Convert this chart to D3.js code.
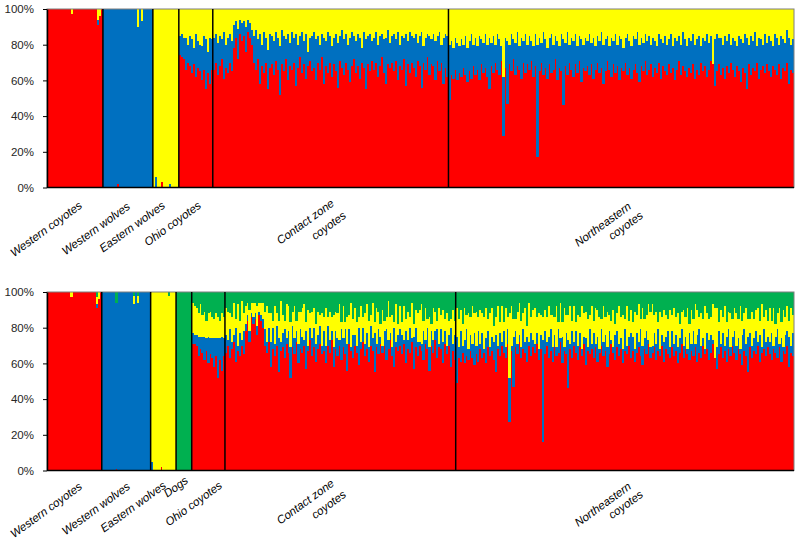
<!DOCTYPE html>
<html>
<head>
<meta charset="utf-8">
<script src="https://cdn.jsdelivr.net/npm/d3@7"></script>
<style>
  body { margin: 0; background: #fff; }
  svg { display: block; }
</style>
</head>
<body>
<div id="chart"></div>
<script>
// ---- data (ancestry proportions, % per individual) ----
const colorsK3 = ["#FF0000", "#0070C0", "#FFFF00"];
const colorsK4 = ["#FF0000", "#0070C0", "#FFFF00", "#00B050"];
const yTicks = [0, 20, 40, 60, 80, 100];

const groupsK3 = ["Western coyotes", "Western wolves", "Eastern wolves", "Ohio coyotes", "Contact zone coyotes", "Northeastern coyotes"];
const groupsK4 = ["Western coyotes", "Western wolves", "Eastern wolves", "Dogs", "Ohio coyotes", "Contact zone coyotes", "Northeastern coyotes"];

const labelsK3 = [["Western coyotes"], ["Western wolves"], ["Eastern wolves"], ["Ohio coyotes"], ["Contact zone", "coyotes"], ["Northeastern", "coyotes"]];
const labelsK4 = [["Western coyotes"], ["Western wolves"], ["Eastern wolves"], ["Dogs"], ["Ohio coyotes"], ["Contact zone", "coyotes"], ["Northeastern", "coyotes"]];

// K = 3
const wcRedK3 = [100,100,100,100,100,100,100,100,100,100,100,100,97,100,100,100,100,100,100,100,100,100,100,100,100,91,96,100];
const wcBlueK3 = [0,0,0,0,0,0,0,0,0,0,0,0,0,0,0,0,0,0,0,0,0,0,0,0,0,3,0,0];
const wwRedK3 = [0,0,0,0,0,0,0,2,0,0,0,0,0,0,0,0,0,0,0,0,0,0,0,0,0];
const wwBlueK3 = [100,100,100,100,100,100,100,98,100,100,100,100,100,100,100,100,100,90,100,93,100,100,100,100,100];
const ewRedK3 = [0,0,0,0,3,0,0,0,0,0,0,0,0];
const ewBlueK3 = [0,6,0,0,0,0,0,0,2,0,0,0,0];
const ohioRedK3 = [74,73,72,66,70,68,64,69,62,67,65,60,66,55,64,58,66];
const ohioBlueK3 = [11,13,12,18,10,17,19,9,24,15,15,19,19,28,12,26,17];
const czRedK3 = [
  66,70,63,68,72,61,67,64,70,65, 78,84,72,86,82,85,76,87,84,80,
  70,66,72,58,68,64,70,55,67,69, 63,71,66,52,69,65,72,60,68,66,
  70,57,67,73,64,69,61,68,71,65, 67,60,70,66,73,58,68,64,70,62,
  69,65,56,71,67,63,70,66,59,68, 72,64,68,61,70,67,55,69,65,71,
  66,70,62,68,73,64,58,69,67,70, 65,71,60,68,66,72,57,69,64,70,
  67,62,71,68,56,70,66,73,63,69, 68,60,71,65,70,58,67,62];
const czBlueK3 = [
  18,16,18,17,11,26,13,20,16,17, 13,9,17,8,10,8,14,7,8,8,
  15,22,11,28,12,23,14,22,19,16, 19,16,18,27,19,20,11,26,13,21,
  14,29,13,12,23,13,25,8,13,20, 20,23,15,14,13,26,14,23,15,17,
  15,21,25,14,21,20,16,14,25,19, 13,18,18,23,8,20,28,16,21,11,
  18,17,18,17,13,19,26,19,14,15, 21,12,27,12,19,12,29,13,23,15,
  17,24,10,17,31,9,18,13,22,14, 18,22,14,22,10,26,19,23];
const neRedK3 = [
  49,63,61,66,60,64,62,67,63,59, 65,61,68,63,66,60,69,64,67,62,
  55,68,64,70,66,63,71,29,67,47, 69,65,72,63,68,66,61,70,64,69,
  66,71,62,68,17,65,70,63,67,61, 69,64,66,72,60,67,65,46,68,63,
  70,66,62,69,64,71,59,67,65,68, 63,69,61,66,70,64,67,58,65,71,
  66,62,69,64,68,60,67,65,70,63, 67,61,66,69,64,59,68,65,71,63,
  66,69,62,67,64,70,61,68,65,63, 69,64,67,60,66,71,63,68,65,62,
  67,64,69,61,66,63,70,65,68,62, 66,71,69,57,65,69,63,67,61,68,
  64,70,66,62,68,65,59,67,64,55, 69,63,67,65,70,61,66,68,64,69,
  65,62,68,66,63,69,61,67,65,70, 58,66,64];
const neBlueK3 = [
  31,19,17,18,21,15,21,13,22,19, 17,25,12,21,13,25,14,17,19,18,
  29,13,21,10,20,20,8,33,17,35, 11,21,11,18,19,13,23,12,22,11,
  19,11,17,18,63,19,11,24,16,17, 15,22,14,13,22,12,21,37,13,24,
  10,18,20,17,15,14,24,13,19,14, 23,12,23,13,15,18,20,22,18,14,
  13,22,13,22,12,25,16,13,14,23, 15,18,19,14,23,21,16,16,15,19,
  19,11,22,15,15,16,22,13,20,17, 14,22,12,24,16,14,17,19,18,17,
  17,18,17,19,17,22,9,19,14,24, 15,14,0,26,21,15,21,13,24,14,
  22,10,18,20,11,20,24,14,22,29, 11,22,15,22,9,23,17,12,22,12,
  20,20,11,20,21,11,24,16,16,18, 26,14,19];

// K = 4
const wcRedK4 = [100,100,100,100,100,100,100,100,100,100,100,100,97,100,100,100,100,100,100,100,100,100,100,100,100,91,96,100];
const wcBlueK4 = [0,0,0,0,0,0,0,0,0,0,0,0,0,0,0,0,0,0,0,0,0,0,0,0,0,2,0,0];
const wcYellowK4 = [0,0,0,0,0,0,0,0,0,0,0,0,3,0,0,0,0,0,0,0,0,0,0,0,0,4,4,0];
const wwRedK4 = [0,0,0,0,0,0,0,1,0,0,0,0,0,0,0,0,0,0,0,0,0,0,0,0,0];
const wwBlueK4 = [100,100,100,100,100,100,100,93,100,100,100,100,100,100,100,100,93,100,94,100,100,100,100,100,100];
const wwYellowK4 = [0,0,0,0,0,0,0,0,0,0,0,0,0,0,0,0,5,0,4,0,0,0,0,0,0];
const ewRedK4 = [0,0,0,0,0,2,0,0,0,0,0,0,0];
const ewBlueK4 = [5,0,0,0,0,0,0,0,0,0,0,0,0];
const ewYellowK4 = [95,100,100,100,100,98,100,100,100,98,100,100,100];
const dogRedK4 = [0,0,0,0,0,0,0,0];
const dogBlueK4 = [0,0,0,0,0,0,0,0];
const dogYellowK4 = [0,0,0,0,0,0,0,0];
const ohioRedK4 = [71,71,70,64,68,66,62,67,60,65,63,58,64,52,62,56,64];
const ohioBlueK4 = [6,5,6,11,7,9,13,7,15,9,11,16,10,22,12,19,10];
const ohioYellowK4 = [17,16,15,13,18,12,14,10,13,15,12,11,14,12,10,13,12];
const czRedK4 = [
  66,70,63,68,72,61,67,64,70,65, 78,84,72,86,82,85,76,87,84,80,
  70,66,72,58,68,64,70,55,67,69, 63,71,66,52,69,65,72,60,68,66,
  70,57,67,73,64,69,61,68,71,65, 67,60,70,66,73,58,68,64,70,62,
  69,65,56,71,67,63,70,66,59,68, 72,64,68,61,70,67,55,69,65,71,
  66,70,62,68,73,64,58,69,67,70, 65,71,60,68,66,72,57,69,64,70,
  67,62,71,68,56,70,66,73,63,69, 68,60,71,65,70,58,67,62];
const czBlueK4 = [
  10,3,16,4,4,19,3,13,3,13, 4,3,6,2,4,3,5,2,3,5,
  9,6,8,14,12,7,11,19,5,8, 16,3,12,17,12,9,6,11,11,9,
  3,21,3,7,10,11,10,8,10,5, 11,10,11,7,5,11,10,10,3,17,
  5,14,15,8,2,13,6,4,21,4, 8,7,9,8,11,7,22,2,14,4,
  4,8,17,5,4,5,22,3,9,9, 11,2,18,5,14,2,18,11,8,2,
  4,16,2,12,13,8,7,5,16,2, 11,12,7,5,6,22,4,14];
const czYellowK4 = [
  15,16,9,14,18,5,23,7,22,10, 10,7,12,6,8,6,11,5,7,9,
  10,20,8,16,4,21,7,10,23,10, 5,19,14,14,8,18,6,18,10,16,
  20,5,20,8,15,11,11,13,6,18, 8,21,5,16,8,18,11,14,20,4,
  18,4,15,8,25,9,15,13,6,20, 6,17,16,15,6,20,6,20,10,7,
  20,6,7,22,9,18,3,21,6,13, 7,19,7,16,6,20,7,10,16,18,
  22,6,18,5,17,4,18,11,5,20, 8,18,7,18,8,5,19,8];
const neRedK4 = [
  49,63,61,66,60,64,62,67,63,59, 65,61,68,63,66,60,69,64,67,62,
  55,68,64,70,66,63,71,27,67,47, 69,65,72,63,68,66,61,70,64,69,
  66,71,62,68,16,65,70,63,67,61, 69,64,66,72,60,67,65,46,68,63,
  70,66,62,69,64,71,59,67,65,68, 63,69,61,66,70,64,67,58,65,71,
  66,62,69,64,68,60,67,65,70,63, 67,61,66,69,64,59,68,65,71,63,
  66,69,62,67,64,70,61,68,65,63, 69,64,67,60,66,71,63,68,65,62,
  67,64,69,61,66,63,70,65,68,62, 66,71,63,57,65,69,63,67,61,68,
  64,70,66,62,68,65,59,67,64,55, 69,63,67,65,70,61,66,68,64,69,
  65,62,68,66,63,69,61,67,65,70, 58,66,64];
const neBlueK4 = [
  26,6,17,4,13,15,6,9,8,18, 5,17,3,14,2,14,9,5,8,10,
  21,2,13,2,12,6,8,25,3,28, 9,6,4,6,11,6,14,2,13,4,
  5,6,6,8,57,13,2,12,12,8, 7,5,13,2,15,2,12,27,3,15,
  2,12,8,8,4,4,15,2,14,3, 14,2,14,2,9,8,9,11,13,2,
  3,14,9,7,6,8,12,5,5,14, 8,7,11,3,15,11,6,13,2,6,
  4,8,9,12,4,6,11,7,13,6, 9,7,9,9,8,8,7,7,3,15,
  4,14,2,15,13,7,4,3,9,11, 10,2,0,12,13,2,14,3,14,11,
  5,5,12,8,6,3,17,12,7,20, 8,7,7,13,2,15,3,11,8,6,
  7,15,2,9,16,2,13,2,11,8, 17,4,13];
const neYellowK4 = [
  16,16,12,12,18,8,20,10,21,11, 19,8,19,11,18,17,7,19,16,9,
  10,22,6,20,5,22,7,36,22,10, 7,18,18,15,9,19,6,22,9,17,
  20,9,20,11,13,12,14,17,8,18, 10,23,4,20,8,22,10,14,21,6,
  20,5,17,9,24,13,15,16,8,21, 7,20,15,18,6,20,10,20,9,11,
  21,6,10,21,12,19,6,22,9,13, 8,21,10,21,6,21,11,9,20,20,
  23,10,18,4,21,10,18,12,7,21, 9,20,10,19,8,10,20,11,23,5,
  19,7,22,14,7,18,11,24,11,12, 10,20,28,22,5,19,9,22,8,10,
  19,10,13,18,11,24,8,9,20,10, 8,19,11,12,19,8,24,7,18,9,
  19,7,21,7,9,20,9,21,10,14, 9,21,10];

// ---- build individual rows ----
const k3Parts = [
  [wcRedK3, wcBlueK3], [wwRedK3, wwBlueK3], [ewRedK3, ewBlueK3],
  [ohioRedK3, ohioBlueK3], [czRedK3, czBlueK3], [neRedK3, neBlueK3]
];
const k4Parts = [
  [wcRedK4, wcBlueK4, wcYellowK4], [wwRedK4, wwBlueK4, wwYellowK4], [ewRedK4, ewBlueK4, ewYellowK4],
  [dogRedK4, dogBlueK4, dogYellowK4], [ohioRedK4, ohioBlueK4, ohioYellowK4],
  [czRedK4, czBlueK4, czYellowK4], [neRedK4, neBlueK4, neYellowK4]
];

function buildRows(groups, parts, keys) {
  const rows = [];
  groups.forEach((g, gi) => {
    const p = parts[gi];
    p[0].forEach((_, i) => {
      const row = { id: gi + "-" + i, group: g };
      let sum = 0;
      p.forEach((arr, k) => { row[keys[k]] = arr[i]; sum += arr[i]; });
      row[keys[keys.length - 1]] = Math.max(0, 100 - sum); // last cluster = remainder
      rows.push(row);
    });
  });
  return rows;
}

const rowsK3 = buildRows(groupsK3, k3Parts, ["red", "blue", "yellow"]);
const rowsK4 = buildRows(groupsK4, k4Parts, ["red", "blue", "yellow", "green"]);

// ---- drawing ----
const width = 800, height = 545;
const left = 47, right = 794;

const svg = d3.select("#chart").append("svg")
  .attr("width", width)
  .attr("height", height)
  .style("font-family", "'Liberation Sans', Arial, sans-serif");

function drawPanel(rows, groups, keys, colors, top, bottom, labels, labelPos) {
  const x = d3.scaleBand().domain(rows.map(d => d.id)).range([left, right]).padding(0);
  const y = d3.scaleLinear().domain([0, 100]).range([bottom, top]);
  const series = d3.stack().keys(keys)(rows);

  const g = svg.append("g");

  // stacked bars
  g.selectAll("g.layer")
    .data(series)
    .enter().append("g")
    .attr("class", "layer")
    .attr("fill", (d, i) => colors[i])
    .selectAll("rect")
    .data(d => d)
    .enter().append("rect")
    .attr("x", d => x(d.data.id))
    .attr("y", d => y(d[1]))
    .attr("width", x.bandwidth() + 0.3)
    .attr("height", d => Math.max(0, y(d[0]) - y(d[1])))
    .attr("shape-rendering", "crispEdges");

  // plot border (top / right)
  g.append("rect")
    .attr("x", left).attr("y", top)
    .attr("width", right - left).attr("height", bottom - top)
    .attr("fill", "none")
    .attr("stroke", "#7f7f7f")
    .attr("stroke-width", 1);

  // group separators
  const starts = groups.map(gName => rows.find(r => r.group === gName));
  g.selectAll("line.sep")
    .data(starts.slice(1))
    .enter().append("line")
    .attr("class", "sep")
    .attr("x1", d => x(d.id)).attr("x2", d => x(d.id))
    .attr("y1", top).attr("y2", bottom)
    .attr("stroke", "#000")
    .attr("stroke-width", 1.5);

  // bottom axis line
  g.append("line")
    .attr("x1", left).attr("x2", right)
    .attr("y1", bottom).attr("y2", bottom)
    .attr("stroke", "#000").attr("stroke-width", 1.5);

  // y axis
  const ax = g.append("g")
    .attr("transform", `translate(${left},0)`)
    .call(d3.axisLeft(y).tickValues(yTicks).tickFormat(d => d + "%").tickSize(4).tickSizeOuter(0));
  ax.select(".domain").attr("stroke", "#000").attr("stroke-width", 1.5);
  ax.selectAll(".tick line").attr("stroke", "#000");
  ax.selectAll(".tick text")
    .attr("x", -13)
    .style("font-size", "11.5px")
    .style("font-family", "'Liberation Sans', Arial, sans-serif")
    .attr("fill", "#262626");

  // category labels (rotated, each line anchored at its end)
  labels.forEach((lines, li) => {
    lines.forEach((t, k) => {
      const p = labelPos[li][k];
      g.append("text")
        .attr("transform", `translate(${p[0]},${p[1]}) rotate(-36)`)
        .attr("text-anchor", "end")
        .style("font-size", "11.5px")
        .style("font-style", "italic")
        .attr("fill", "#000")
        .text(t);
    });
  });
}

drawPanel(rowsK3, groupsK3, ["red", "blue", "yellow"], colorsK3, 9, 187.5, labelsK3, [
  [[83, 207]], [[131, 208]], [[166, 207]], [[202, 207]],
  [[335, 205], [347, 217]], [[632, 208], [644, 217]]
]);

drawPanel(rowsK4, groupsK4, ["red", "blue", "yellow", "green"], colorsK4, 292, 470.5, labelsK4, [
  [[83, 488]], [[131, 488]], [[167, 487]], [[189, 482]], [[223, 487]],
  [[335, 485], [347, 496]], [[632, 488], [644, 496]]
]);
</script>
</body>
</html>
